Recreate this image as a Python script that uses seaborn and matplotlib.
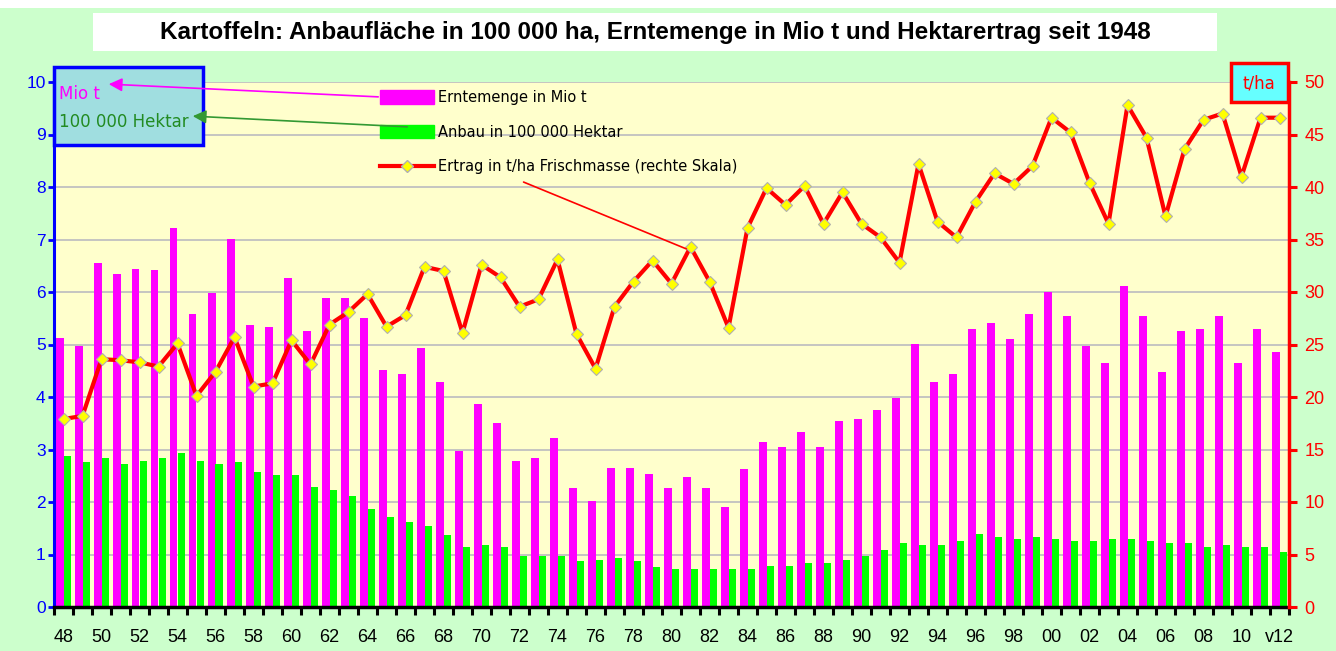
import numpy as np
import pandas as pd
import matplotlib.pyplot as plt
import matplotlib.patches as mpatches
from matplotlib.lines import Line2D
import seaborn as sns

# data
years = list(range(1948, 2013))
ernte = [5.12, 4.98, 6.55, 6.34, 6.44, 6.41, 7.22, 5.59, 5.99, 7.01,
         5.37, 5.33, 6.27, 5.26, 5.89, 5.89, 5.51, 4.51, 4.44, 4.94,
         4.29, 2.98, 3.87, 3.51, 2.79, 2.83, 3.22, 2.26, 2.01, 2.65,
         2.65, 2.54, 2.26, 2.47, 2.26, 1.90, 2.62, 3.15, 3.04, 3.33,
         3.04, 3.54, 3.58, 3.76, 3.98, 5.01, 4.29, 4.44, 5.29, 5.41,
         5.10, 5.59, 6.00, 5.54, 4.98, 4.65, 6.11, 5.54, 4.47, 5.26,
         5.30, 5.54, 4.65, 5.30, 4.86]
anbau = [2.87, 2.76, 2.83, 2.72, 2.79, 2.83, 2.94, 2.79, 2.72, 2.76,
         2.58, 2.51, 2.51, 2.29, 2.22, 2.12, 1.87, 1.72, 1.62, 1.54,
         1.37, 1.15, 1.19, 1.15, 0.97, 0.97, 0.97, 0.87, 0.90, 0.94,
         0.87, 0.76, 0.72, 0.72, 0.72, 0.72, 0.72, 0.79, 0.79, 0.83,
         0.83, 0.90, 0.97, 1.08, 1.22, 1.19, 1.19, 1.26, 1.40, 1.33,
         1.29, 1.33, 1.29, 1.26, 1.26, 1.29, 1.29, 1.26, 1.22, 1.22,
         1.15, 1.19, 1.15, 1.15, 1.04]
ertrag = [17.9, 18.2, 23.6, 23.5, 23.3, 22.9, 25.1, 20.1, 22.4, 25.7,
          21.0, 21.3, 25.4, 23.1, 26.9, 28.1, 29.8, 26.7, 27.8, 32.4,
          32.0, 26.1, 32.6, 31.4, 28.6, 29.3, 33.1, 26.0, 22.7, 28.6,
          31.0, 33.0, 30.8, 34.3, 31.0, 26.6, 36.1, 39.9, 38.3, 40.1,
          36.5, 39.5, 36.5, 35.2, 32.8, 42.2, 36.7, 35.2, 38.6, 41.3,
          40.3, 42.0, 46.6, 45.2, 40.4, 36.5, 47.8, 44.7, 37.2, 43.6,
          46.4, 47.0, 41.0, 46.6, 46.6]
labels = ['%02d' % (y % 100) for y in years]
labels[-1] = 'v12'

title = 'Kartoffeln: Anbaufläche in 100 000 ha, Erntemenge in Mio t und Hektarertrag seit 1948'
lab_ernte = 'Erntemenge in Mio t'
lab_anbau = 'Anbau in 100 000 Hektar'
lab_ertrag = 'Ertrag in t/ha Frischmasse (rechte Skala)'

W, H = 1336, 651
def px(x, y):
    return x / W, 1 - y / H

df = pd.DataFrame({'Jahr': labels, lab_ernte: ernte, lab_anbau: anbau})
long = df.melt(id_vars='Jahr', var_name='Reihe', value_name='Wert')

plt.rcParams['font.family'] = ['Liberation Sans', 'DejaVu Sans']
fig = plt.figure(figsize=(W / 100, H / 100), dpi=100, facecolor='#CCFFCC')
ax = fig.add_axes([54 / W, 44 / H, 1235 / W, 525 / H])
ax.set_facecolor('#FFFFCC')

sns.barplot(data=long, x='Jahr', y='Wert', hue='Reihe',
            palette=['#FF00FF', '#00FF00'], width=0.8, saturation=1,
            ax=ax, legend=False)
ax.set_xlim(-0.5, len(years) - 0.5)
ax.set_ylim(0, 10)
ax.set_yticks(range(0, 11))
ax.set_axisbelow(True)
ax.yaxis.grid(True, color='#C0C0C0', lw=1.3)
ax.set_xlabel('')
ax.set_ylabel('')

ax.set_xticks(range(0, len(years), 2))
ax.set_xticklabels(labels[::2])
ax.set_xticks(np.arange(-0.5, len(years), 1), minor=True)
ax.tick_params(axis='x', which='major', length=0, pad=16, labelsize=13, colors='black')
ax.tick_params(axis='x', which='minor', length=6, width=2.2, color='black')
ax.tick_params(axis='y', length=4, width=2, color='#0000FF', labelcolor='#0000FF',
               labelsize=12.5, pad=2)

for s in ['top', 'right']:
    ax.spines[s].set_visible(False)
ax.spines['left'].set_color('#0000FF')
ax.spines['left'].set_linewidth(2.2)
ax.spines['bottom'].set_color('black')
ax.spines['bottom'].set_linewidth(2.5)

ax2 = ax.twinx()
sns.lineplot(x=np.arange(len(years)), y=ertrag, ax=ax2, color='#FF0000', lw=3,
             marker='D', markersize=6, markerfacecolor='#FFFF00',
             markeredgecolor='#B0B0B0', markeredgewidth=0.8)
ax2.set_ylim(0, 50)
ax2.set_yticks(range(0, 51, 5))
ax2.tick_params(axis='y', length=6, width=2.2, color='#FF0000', labelcolor='#FF0000',
                labelsize=13, pad=5)
for s in ['top', 'left', 'bottom']:
    ax2.spines[s].set_visible(False)
ax2.spines['right'].set_color('#FF0000')
ax2.spines['right'].set_linewidth(2.5)

# legend
handles = [mpatches.Patch(color='#FF00FF'), mpatches.Patch(color='#00FF00'),
           Line2D([], [], color='#FF0000', lw=3, marker='D', markersize=6,
                  markerfacecolor='#FFFF00', markeredgecolor='#B0B0B0')]
ax2.legend(handles, [lab_ernte, lab_anbau, lab_ertrag], loc='upper left',
           bbox_to_anchor=px(380, 90), bbox_transform=fig.transFigure,
           frameon=False, handlelength=3.7, handleheight=1.0,
           handletextpad=0.3, labelspacing=1.35, borderpad=0, borderaxespad=0,
           numpoints=1, prop={'family': 'DejaVu Sans', 'size': 10.5})

# white band at the very top, title box
fig.add_artist(mpatches.Rectangle(px(0, 8), 1, 8 / H, transform=fig.transFigure,
                                  facecolor='white', edgecolor='none'))
fig.add_artist(mpatches.Rectangle(px(93, 51), 1124 / W, 38 / H, transform=fig.transFigure,
                                  facecolor='white', edgecolor='none'))
fig.text(*px(655, 32), title, ha='center', va='center', fontsize=17.5,
         fontweight='bold', color='black')

# unit boxes
fig.add_artist(mpatches.Rectangle(px(54, 145), 149 / W, 78 / H, transform=fig.transFigure,
                                  facecolor='#A0DEE0', edgecolor='#0000FF', lw=2.5, zorder=4))
fig.text(*px(59, 94), 'Mio t', ha='left', va='center', fontsize=12,
         family='DejaVu Sans', color='#FF00FF', zorder=5)
fig.text(*px(59, 122), '100 000 Hektar', ha='left', va='center', fontsize=12,
         family='DejaVu Sans', color='#228B22', zorder=5)
fig.add_artist(mpatches.Rectangle(px(1231, 102), 57 / W, 39 / H, transform=fig.transFigure,
                                  facecolor='#66FFFF', edgecolor='#FF0000', lw=2.5, zorder=4))
fig.text(*px(1259, 83), 't/ha', ha='center', va='center', fontsize=12,
         family='DejaVu Sans', color='#FF0000', zorder=5)

# pointer arrows from legend to the unit boxes
fig.add_artist(mpatches.FancyArrowPatch(px(381, 97), px(106, 84), transform=fig.transFigure,
                                        arrowstyle='-|>', mutation_scale=20, color='#FF00FF',
                                        lw=1.2, zorder=6))
fig.add_artist(mpatches.FancyArrowPatch(px(410, 127), px(190, 116), transform=fig.transFigure,
                                        arrowstyle='-|>', mutation_scale=20, color='#339933',
                                        lw=1.2, zorder=6))
fig.add_artist(mpatches.FancyArrowPatch(px(521, 181), px(689, 250), transform=fig.transFigure,
                                        arrowstyle='-', color='#FF0000', lw=1.2, zorder=6))

fig.savefig('out.png', dpi=100, facecolor=fig.get_facecolor())
